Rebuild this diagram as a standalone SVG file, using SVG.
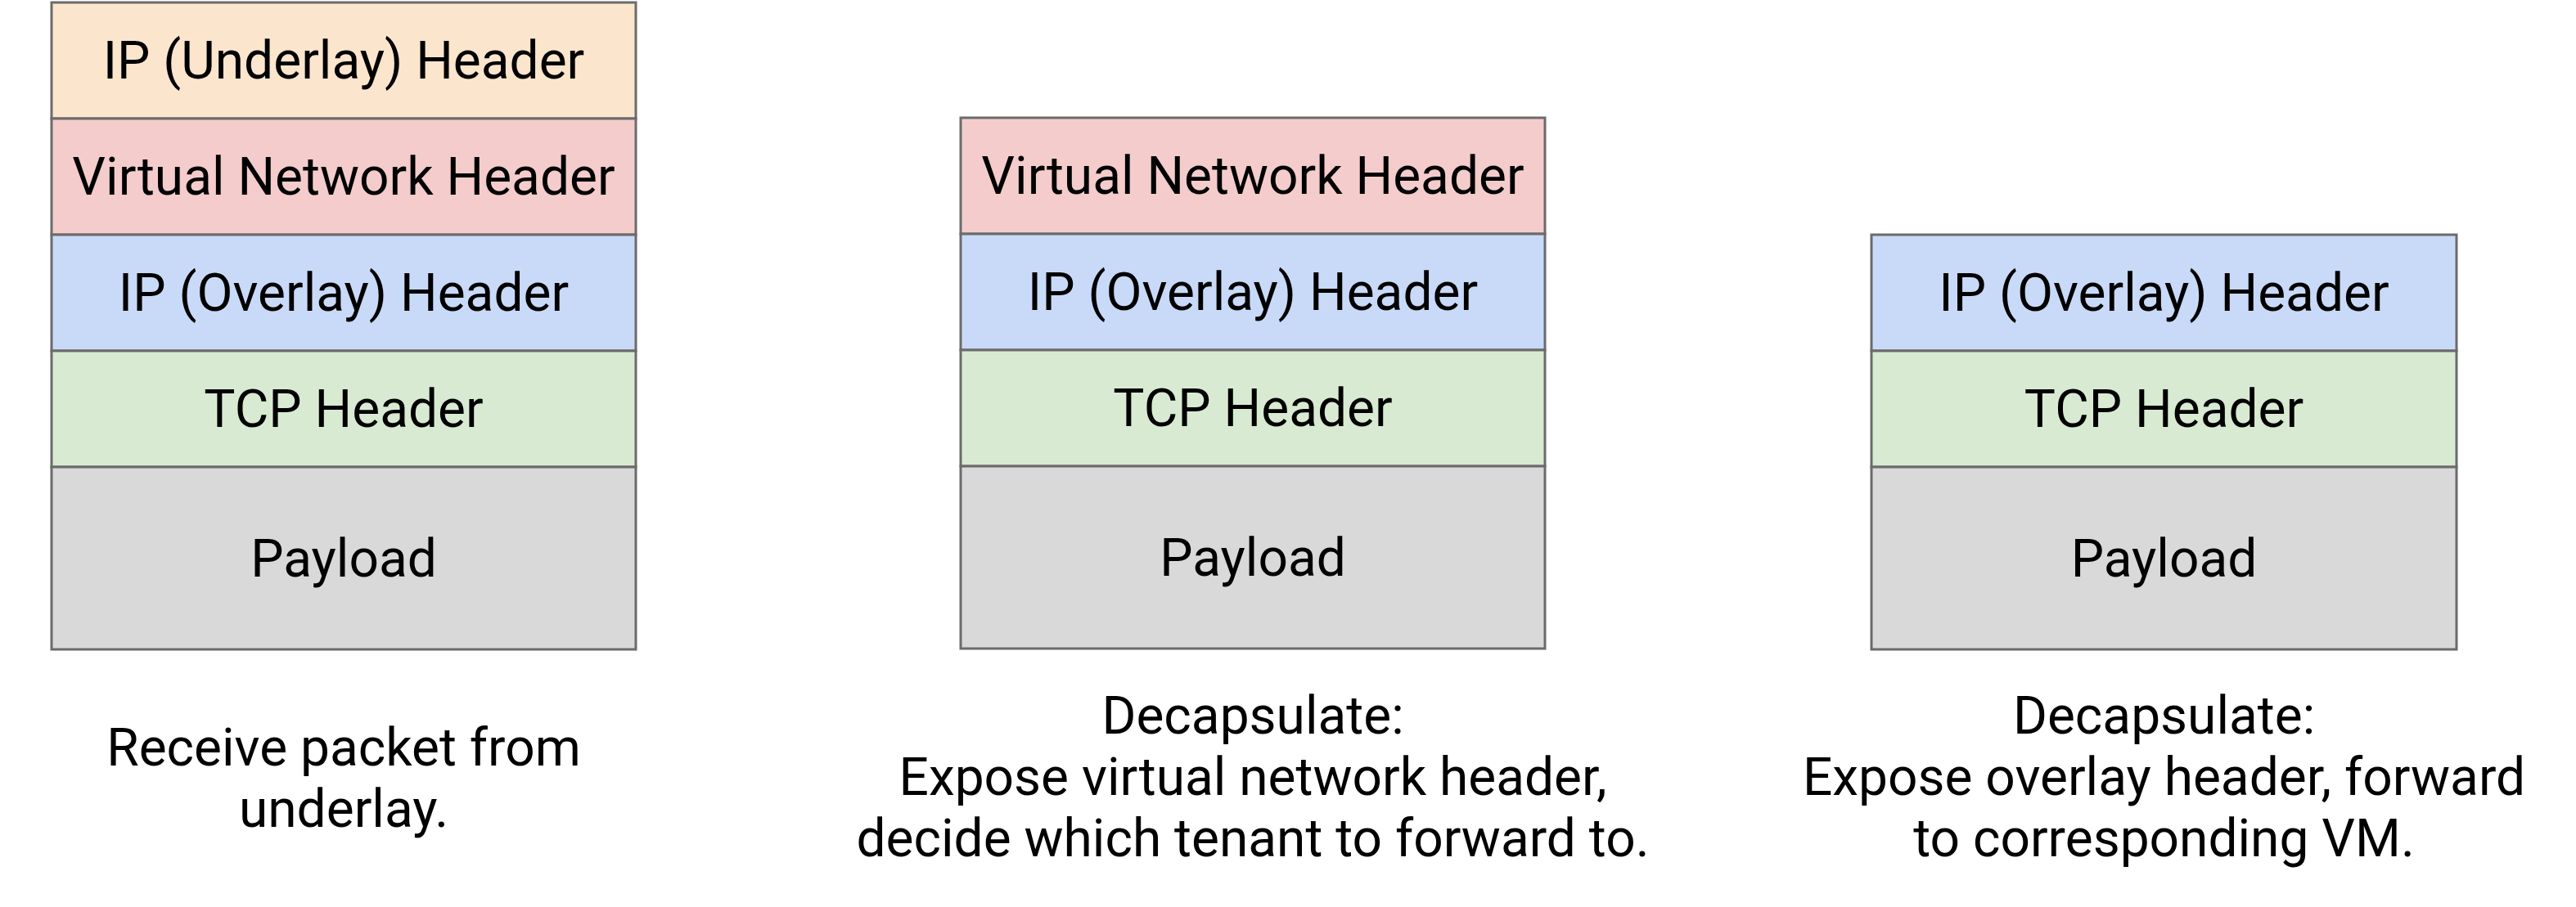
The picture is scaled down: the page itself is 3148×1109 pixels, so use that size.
<svg xmlns="http://www.w3.org/2000/svg" width="3148" height="1109" viewBox="0 0 3148 1109">
<style>
.cell{stroke:#6b6b6b;stroke-width:3}
.ul{fill:#fce5cd}.vn{fill:#f4cccc}.ov{fill:#c9daf8}.tcp{fill:#d9ead3}.pl{fill:#d9d9d9}
text{font-family:Roboto,"Liberation Sans",sans-serif;font-size:64px;fill:#000;text-anchor:middle}
</style>
<rect width="3148" height="1109" fill="#ffffff"/>
<g id="stack1">
<g id="s1-ip-underlay"><rect class="cell ul" x="63" y="3" width="714" height="142"/><text x="420" y="96">IP (Underlay) Header</text></g>
<g id="s1-vnet"><rect class="cell vn" x="63" y="145" width="714" height="142"/><text x="420" y="238">Virtual Network Header</text></g>
<g id="s1-ip-overlay"><rect class="cell ov" x="63" y="287" width="714" height="142"/><text x="420" y="380">IP (Overlay) Header</text></g>
<g id="s1-tcp"><rect class="cell tcp" x="63" y="429" width="714" height="142"/><text x="420" y="522">TCP Header</text></g>
<g id="s1-payload"><rect class="cell pl" x="63" y="571" width="714" height="223"/><text x="420" y="705">Payload</text></g>
<g id="s1-caption"><text x="420" y="936">Receive packet from</text><text x="420" y="1011">underlay.</text></g>
</g>
<g id="stack2">
<g id="s2-vnet"><rect class="cell vn" x="1174" y="144" width="714" height="142"/><text x="1531" y="237">Virtual Network Header</text></g>
<g id="s2-ip-overlay"><rect class="cell ov" x="1174" y="286" width="714" height="142"/><text x="1531" y="379">IP (Overlay) Header</text></g>
<g id="s2-tcp"><rect class="cell tcp" x="1174" y="428" width="714" height="142"/><text x="1531" y="521">TCP Header</text></g>
<g id="s2-payload"><rect class="cell pl" x="1174" y="570" width="714" height="223"/><text x="1531" y="704">Payload</text></g>
<g id="s2-caption"><text x="1531" y="897">Decapsulate:</text><text x="1531" y="972">Expose virtual network header,</text><text x="1531" y="1047">decide which tenant to forward to.</text></g>
</g>
<g id="stack3">
<g id="s3-ip-overlay"><rect class="cell ov" x="2287" y="287" width="715" height="142"/><text x="2644.5" y="380">IP (Overlay) Header</text></g>
<g id="s3-tcp"><rect class="cell tcp" x="2287" y="429" width="715" height="142"/><text x="2644.5" y="522">TCP Header</text></g>
<g id="s3-payload"><rect class="cell pl" x="2287" y="571" width="715" height="223"/><text x="2644.5" y="705">Payload</text></g>
<g id="s3-caption"><text x="2644.5" y="897">Decapsulate:</text><text x="2644.5" y="972">Expose overlay header, forward</text><text x="2644.5" y="1047">to corresponding VM.</text></g>
</g>
<g id="connectors"/>
</svg>
